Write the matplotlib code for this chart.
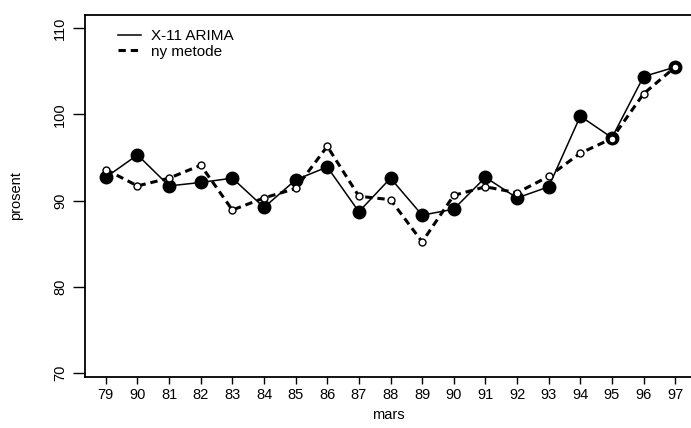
"""Seasonally adjusted March index: X-11 ARIMA against the new method."""

import matplotlib

matplotlib.use("Agg", force=True)
import matplotlib.pyplot as plt

plt.rcParams["font.family"] = ["Liberation Sans", "DejaVu Sans"]

years = ["79", "90", "81", "82", "83", "84", "85", "86", "87", "88",
         "89", "90", "91", "92", "93", "94", "95", "96", "97"]
x11_arima = [92.7, 95.3, 91.7, 92.1, 92.6, 89.2, 92.4, 93.9, 88.7, 92.6,
             88.3, 89.0, 92.7, 90.3, 91.6, 99.8, 97.3, 104.4, 105.5]
ny_metode = [93.6, 91.7, 92.6, 94.1, 88.9, 90.3, 91.4, 96.3, 90.5, 90.1,
             85.2, 90.6, 91.6, 90.9, 92.8, 95.5, 97.2, 102.4, 105.5]
y_ticks = [70, 80, 90, 100, 110]

fig = plt.figure(figsize=(6.91, 4.28), dpi=100)
ax = fig.add_axes([0.123, 0.119, 0.877, 0.847])

pos = list(range(len(years)))
ax.plot(pos, x11_arima, color="black", linewidth=1.1, marker="o",
        markersize=9, markerfacecolor="black", markeredgecolor="black",
        label="X-11 ARIMA", zorder=2)
ax.plot(pos, ny_metode, color="black", linewidth=2.2, linestyle=(0, (2.4, 1.6)),
        marker="o", markersize=5, markerfacecolor="white",
        markeredgecolor="black", markeredgewidth=1.0,
        label="ny metode", zorder=3)

ax.set_xlim(-0.66, 18.5)
ax.set_ylim(69.5, 111.6)
ax.set_xticks(pos)
ax.set_xticklabels(years)
ax.set_yticks(y_ticks)
ax.set_yticklabels([str(v) for v in y_ticks], rotation=90, va="center")
ax.tick_params(direction="out", width=1.0, labelsize=10.5, colors="black")
ax.tick_params(axis="x", length=5, pad=3)
ax.tick_params(axis="y", length=9, pad=4)
for side in ax.spines.values():
    side.set_linewidth(1.3)
ax.spines["right"].set_visible(False)

ax.set_xlabel("mars", fontsize=10.5, labelpad=4)
ax.set_ylabel("prosent", fontsize=10.5)
ax.yaxis.set_label_coords(-0.102, 0.5)

leg = ax.legend(loc="upper left", bbox_to_anchor=(0.054, 0.96), frameon=False,
                fontsize=11, handlelength=1.5, handletextpad=0.65,
                labelspacing=0.1, borderpad=0, borderaxespad=0)
for h in leg.legend_handles:
    h.set_marker("")

fig.savefig("out.png", dpi=100)
